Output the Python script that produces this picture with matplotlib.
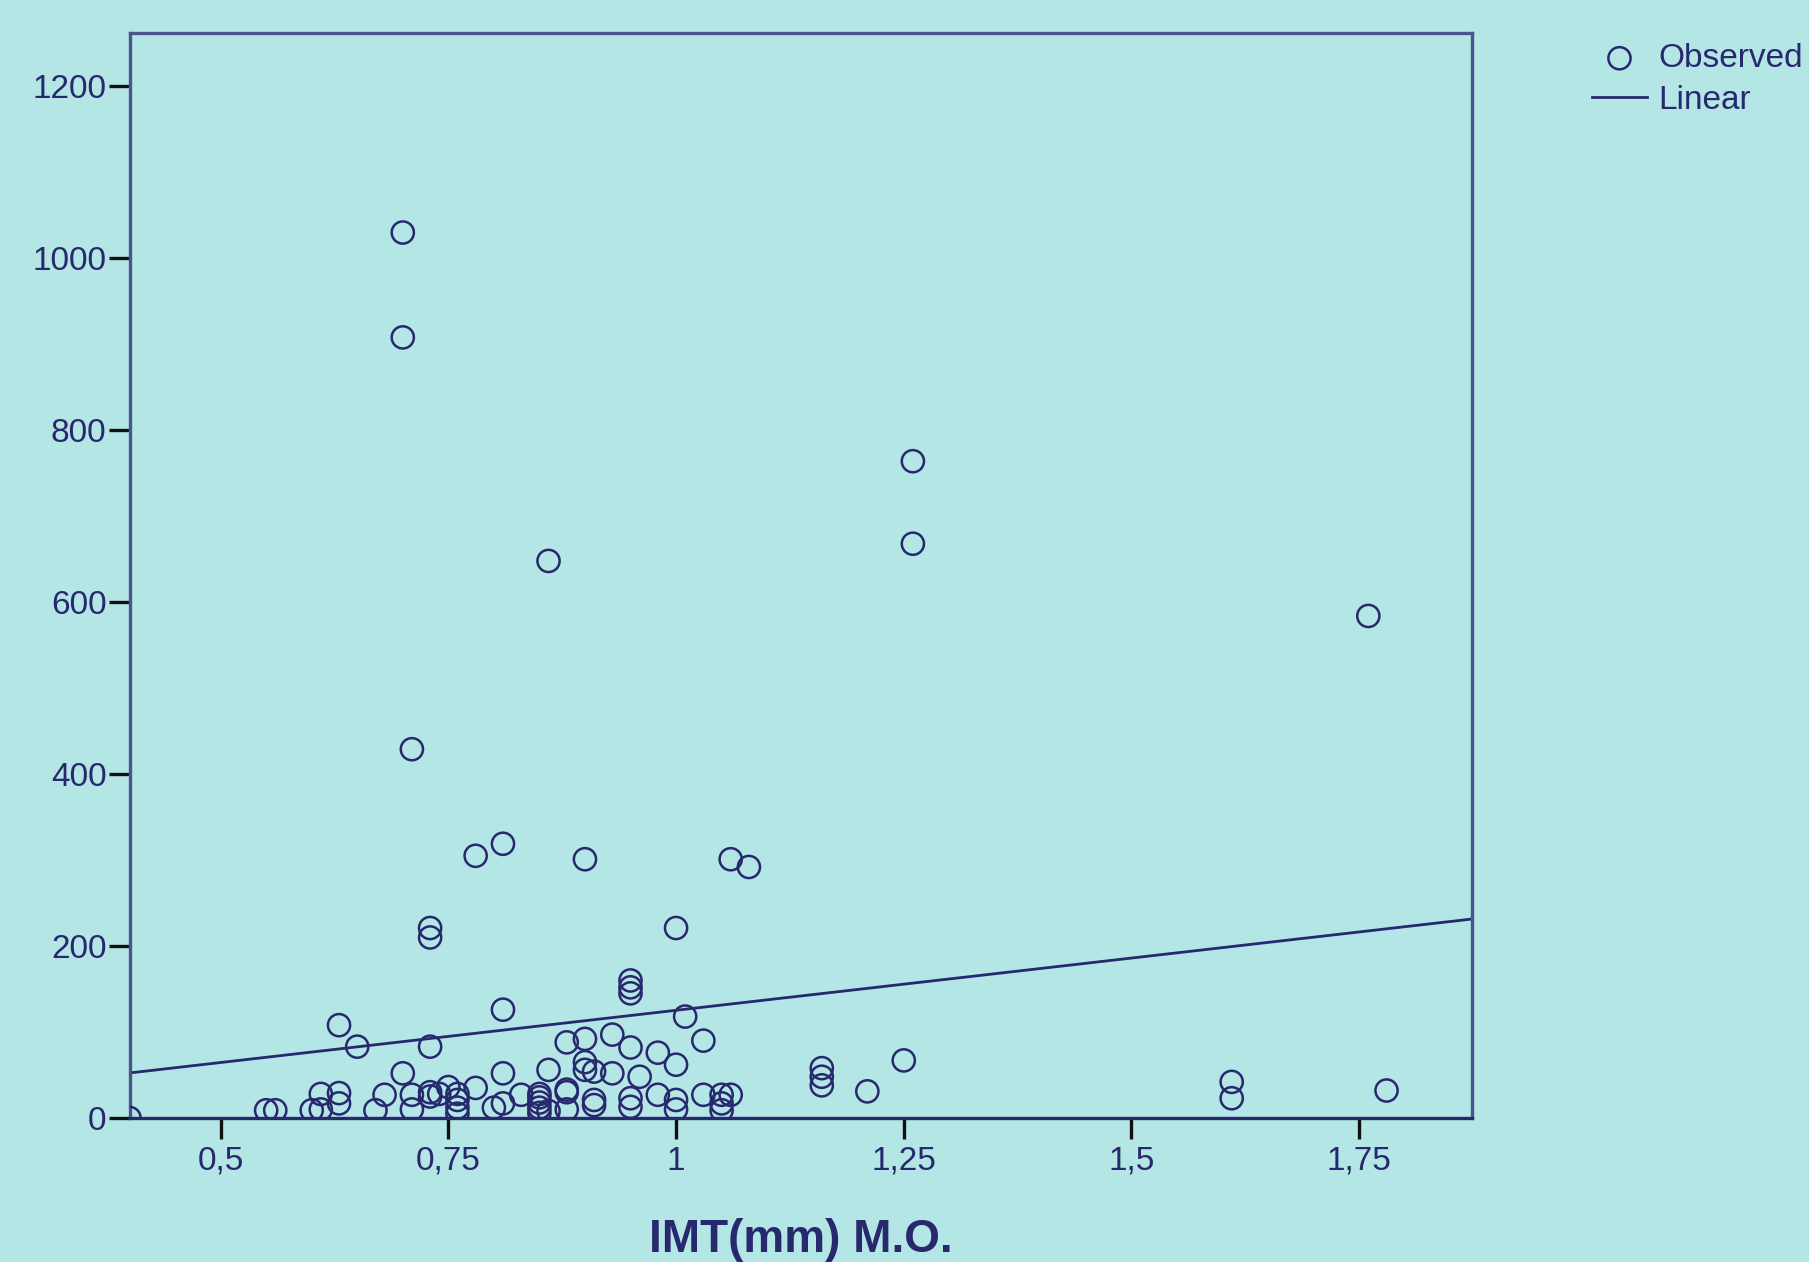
import matplotlib
matplotlib.use('Agg')
import matplotlib.pyplot as plt
import numpy as np

# values
imt = [0.70, 0.70, 1.26, 1.26, 0.86, 1.76, 0.71, 0.78, 0.81, 0.90,
       1.06, 1.08, 0.73, 0.73, 1.00, 0.95, 0.95, 0.95,
       0.63, 0.65, 0.73, 0.81, 1.01, 0.88, 0.90, 0.93, 0.95, 0.98,
       1.03, 1.00, 1.25, 1.16, 1.16, 1.16, 1.21, 1.61, 1.61, 1.78,
       0.86, 0.90, 0.91, 0.93, 0.96, 0.70, 0.81, 0.88, 0.90,
       0.40, 0.55, 0.56, 0.60, 0.61, 0.61, 0.63, 0.63, 0.67, 0.68,
       0.71, 0.71, 0.73, 0.73, 0.74, 0.75, 0.76, 0.76, 0.76, 0.76,
       0.78, 0.80, 0.81, 0.83, 0.85, 0.85, 0.85, 0.85, 0.85, 0.86,
       0.88, 0.88, 0.91, 0.91, 0.95, 0.95, 0.98, 1.00, 1.00, 1.03,
       1.05, 1.06, 1.05, 1.05]
pth = [1030, 908, 764, 668, 648, 584, 429, 305, 319, 301,
       301, 292, 221, 210, 221, 160, 152, 145,
       108, 83, 83, 126, 118, 88, 92, 97, 82, 76,
       90, 62, 67, 58, 48, 38, 31, 42, 23, 32,
       56, 65, 54, 52, 48, 52, 52, 33, 56,
       0, 9, 9, 9, 10, 28, 29, 17, 9, 27,
       27, 10, 25, 30, 28, 36, 21, 12, 5, 28,
       35, 12, 17, 27, 12, 18, 24, 28, 6, 8,
       30, 10, 21, 15, 23, 13, 27, 21, 10, 27,
       27, 27, 17, 9]

# linear fit line as shown
fit_intercept = 3.8
fit_slope = 121.5

xticks = [0.5, 0.75, 1.0, 1.25, 1.5, 1.75]
xticklabels = ['0,5', '0,75', '1', '1,25', '1,5', '1,75']
yticks = [0, 200, 400, 600, 800, 1000, 1200]

bg = '#B4E6E6'
navy = '#28286E'

plt.rcParams['font.family'] = ['Liberation Sans', 'DejaVu Sans']

fig = plt.figure(figsize=(18.09, 12.62), dpi=100)
fig.patch.set_facecolor(bg)
ax = fig.add_axes([0.0719, 0.1141, 0.7419, 0.8597])
ax.set_facecolor(bg)

ax.scatter(imt, pth, s=255, facecolors='none', edgecolors=navy,
           linewidths=1.8, zorder=3, label='Observed')

xmin, xmax = 0.4006, 1.874
xs = np.array([xmin, xmax])
ax.plot(xs, fit_intercept + fit_slope * xs, color=navy, lw=2.0,
        zorder=2, label='Linear')

ax.set_xlim(xmin, xmax)
ax.set_ylim(0, 1262)
ax.set_xticks(xticks)
ax.set_xticklabels(xticklabels)
ax.set_yticks(yticks)

ax.tick_params(axis='both', direction='out', length=15, width=2.4,
               color='#111111', labelsize=24, labelcolor=navy)
ax.tick_params(axis='x', pad=5)
ax.tick_params(axis='y', pad=2)

for side in ['left', 'top', 'right']:
    ax.spines[side].set_color('#4A5590')
    ax.spines[side].set_linewidth(2.4)
ax.spines['bottom'].set_color(navy)
ax.spines['bottom'].set_linewidth(2.4)

ax.set_xlabel('IMT(mm) M.O.', fontsize=33, fontweight='bold', color=navy)
ax.xaxis.label.set_va('baseline')
ax.xaxis.set_label_coords(0.5, -0.1235)

leg = ax.legend(loc='upper left', bbox_to_anchor=(1592 / 1809, 1 - 43 / 1262),
                bbox_transform=fig.transFigure, frameon=False, fontsize=24,
                handlelength=1.65, handletextpad=0.33, borderpad=0,
                labelspacing=0.33, borderaxespad=0)
for t in leg.get_texts():
    t.set_color(navy)

fig.savefig('out.png', dpi=100, facecolor=bg)
